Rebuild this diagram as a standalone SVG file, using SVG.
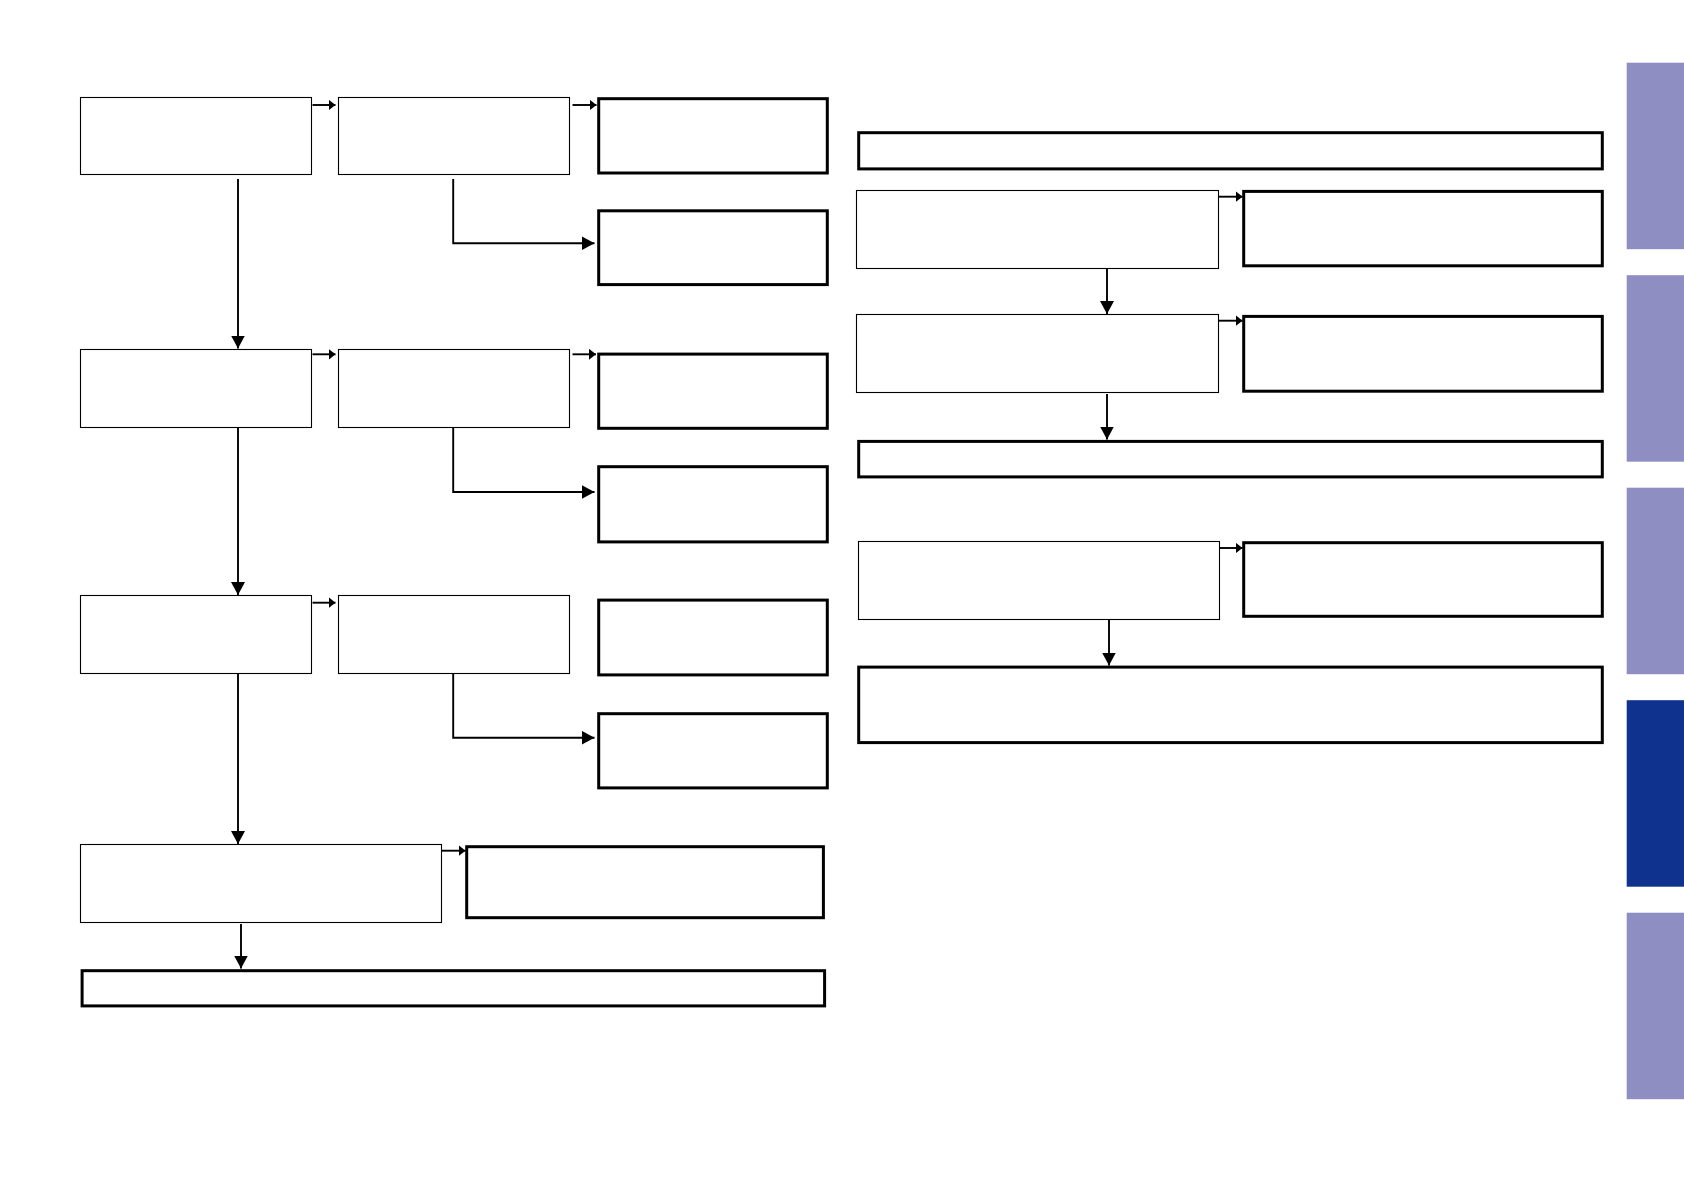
<svg xmlns="http://www.w3.org/2000/svg" width="1684" height="1191" viewBox="0 0 1684 1191">
<style>
.thin{fill:#fff;stroke:#000;stroke-width:1.1}
.thick{fill:#fff;stroke:#000;stroke-width:3}
.c{fill:none;stroke:#000;stroke-width:1.9}
.cs{marker-end:url(#ms)}
.cb{marker-end:url(#mb)}
.tab{fill:#8f8ec3}
.tabon{fill:#0e328e}
</style>
<defs>
<marker id="ms" markerUnits="userSpaceOnUse" markerWidth="8" markerHeight="12" refX="7" refY="5.5" orient="auto"><path d="M0,0 L7,5.5 L0,11 z" fill="#000"/></marker>
<marker id="mb" markerUnits="userSpaceOnUse" markerWidth="14" markerHeight="15" refX="13" refY="7" orient="auto"><path d="M0,0 L13,7 L0,14 z" fill="#000"/></marker>
</defs>
<rect width="1684" height="1191" fill="#fff"/>
<g id="tabs">
<rect class="tab" x="1626.7" y="62.7" width="57.3" height="186.5"/>
<rect class="tab" x="1626.7" y="275.2" width="57.3" height="186.5"/>
<rect class="tab" x="1626.7" y="487.7" width="57.3" height="186.5"/>
<rect class="tabon" x="1626.7" y="700.2" width="57.3" height="186.5"/>
<rect class="tab" x="1626.7" y="912.7" width="57.3" height="186.5"/>
</g>
<g id="connectors">
<path class="c cs" d="M312.5,105 H335.5"/>
<path class="c cs" d="M572.5,105 H596.5"/>
<path class="c cb" d="M238,179 V348.5"/>
<path class="c cb" d="M453.2,179 V243.3 H594.5"/>
<path class="c cs" d="M312.5,354.3 H335.5"/>
<path class="c cs" d="M572.5,354.3 H596"/>
<path class="c cb" d="M238,427.5 V595"/>
<path class="c cb" d="M453.2,427.5 V492 H594.5"/>
<path class="c cs" d="M312.5,602.7 H335.5"/>
<path class="c cb" d="M238,673.5 V844"/>
<path class="c cb" d="M453.2,673.5 V737.7 H594.5"/>
<path class="c cs" d="M441.7,850.7 H465.5"/>
<path class="c cb" d="M241,924 V968.5"/>
<path class="c cs" d="M1219,196.7 H1242.5"/>
<path class="c cb" d="M1107,268.5 V314"/>
<path class="c cs" d="M1219,320.7 H1242.5"/>
<path class="c cb" d="M1107,394 V439.5"/>
<path class="c cs" d="M1219.7,548 H1242.5"/>
<path class="c cb" d="M1109,619.5 V665.5"/>
</g>
<g id="A1"><rect class="thin" x="80.5" y="97.5" width="231" height="77"/></g>
<g id="B1"><rect class="thin" x="338.5" y="97.5" width="231" height="77"/></g>
<g id="C1"><rect class="thick" x="598.7" y="98.7" width="228.6" height="74.3"/></g>
<g id="C2"><rect class="thick" x="598.7" y="210.8" width="228.6" height="73.8"/></g>
<g id="A2"><rect class="thin" x="80.5" y="349.5" width="231" height="78"/></g>
<g id="B2"><rect class="thin" x="338.5" y="349.5" width="231" height="78"/></g>
<g id="C3"><rect class="thick" x="598.7" y="354.1" width="228.6" height="74.2"/></g>
<g id="C4"><rect class="thick" x="598.7" y="466.7" width="228.6" height="75.2"/></g>
<g id="A3"><rect class="thin" x="80.5" y="595.5" width="231" height="78"/></g>
<g id="B3"><rect class="thin" x="338.5" y="595.5" width="231" height="78"/></g>
<g id="C5"><rect class="thick" x="598.7" y="600.1" width="228.6" height="74.8"/></g>
<g id="C6"><rect class="thick" x="598.7" y="713.7" width="228.6" height="74.2"/></g>
<g id="A4"><rect class="thin" x="80.5" y="844.5" width="361" height="78"/></g>
<g id="D"><rect class="thick" x="466.7" y="846.7" width="356.7" height="71"/></g>
<g id="E"><rect class="thick" x="82.1" y="970.7" width="742.5" height="35.2"/></g>
<g id="R0"><rect class="thick" x="858.7" y="132.7" width="743.6" height="36.2"/></g>
<g id="R1"><rect class="thin" x="856.5" y="190.5" width="362" height="78"/></g>
<g id="S1"><rect class="thick" x="1243.7" y="191.4" width="358.6" height="74.4"/></g>
<g id="R2"><rect class="thin" x="856.5" y="314.5" width="362" height="78"/></g>
<g id="S2"><rect class="thick" x="1243.7" y="316.4" width="358.6" height="74.8"/></g>
<g id="R3"><rect class="thick" x="858.7" y="441.4" width="743.6" height="35.5"/></g>
<g id="R4"><rect class="thin" x="858.5" y="541.5" width="361" height="78"/></g>
<g id="S3"><rect class="thick" x="1243.7" y="542.7" width="358.6" height="73.6"/></g>
<g id="R5"><rect class="thick" x="858.7" y="667.1" width="743.6" height="75.5"/></g>
</svg>
